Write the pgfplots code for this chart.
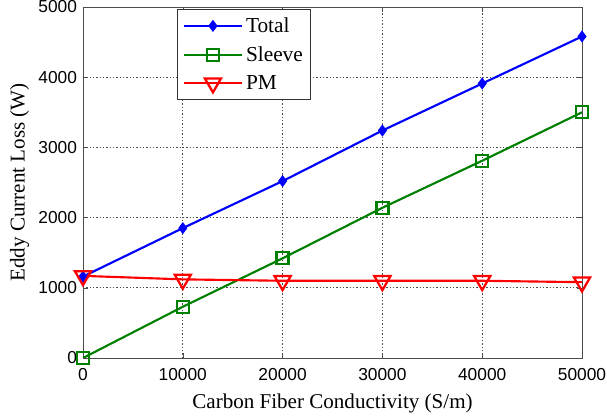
\documentclass[border=0pt]{standalone}
\usepackage{pgfplots}
\pgfplotsset{compat=1.18}
\usepackage{fontspec}
\setmainfont{Liberation Serif}
\setsansfont{Liberation Sans}
\newfontfamily\legfont{Liberation Serif}
\definecolor{mgreen}{RGB}{0,128,0}
\begin{document}
\begin{tikzpicture}[x=1pt,y=1pt]
\begin{axis}[
  name=ax,
  at={(0,0)}, anchor=south west,
  scale only axis,
  width=374.25pt, height=263.25pt,
  xmin=0, xmax=50000, ymin=0, ymax=5000,
  xtick={0,10000,...,50000}, ytick={0,1000,...,5000},
  scaled ticks=false,
  /pgf/number format/.cd, set thousands separator={}, assume math mode=true,
  /pgfplots/.cd,
  tick label style={font=\sffamily\fontsize{13}{14}\selectfont},
  xticklabel style={yshift=-4pt},
  yticklabel style={xshift=-1pt},
  tick align=inside, tick pos=both,
  major tick length=4pt,
  grid=major,
  major grid style={dash pattern=on 1pt off 1.5pt, black!70, line width=0.5pt},
  axis line style={black!70, line width=0.6pt},
  tick style={black!70},
  xlabel={Carbon Fiber Conductivity (S/m)},
  ylabel={Eddy Current Loss (W)},
  label style={font=\rmfamily\fontsize{15.8}{17}\selectfont},
  xlabel style={yshift=-3pt},
  legend style={at={(0.188,0.994)}, anchor=north west, draw=black!80, line width=0.6pt,
    font=\legfont\fontsize{16}{18}\selectfont, row sep=5pt, inner xsep=4pt, inner ysep=4pt,
    fill=white},
  legend cell align=left,
  legend image code/.code={\draw[mark repeat=2,mark phase=2,#1] plot coordinates {(0pt,0pt) (22pt,0pt) (44pt,0pt)};},
]
\addplot[color=blue, line width=1.6pt, mark=diamond*, mark size=3.9pt, mark options={fill=blue, solid, line width=0.8pt}]
  coordinates {(0,1160) (10000,1850) (20000,2520) (30000,3240) (40000,3910) (50000,4580)};
\addlegendentry{Total}
\addplot[color=mgreen, line width=1.6pt, mark=square, mark size=4.5pt, mark options={solid, line width=1.7pt}]
  coordinates {(0,0) (10000,730) (20000,1420) (30000,2140) (40000,2810) (50000,3500)};
\addlegendentry{Sleeve}
\addplot[color=red, line width=1.6pt, mark=triangle, mark size=7pt, mark options={solid, line width=1.7pt, rotate=180}]
  coordinates {(0,1170) (10000,1120) (20000,1100) (30000,1100) (40000,1100) (50000,1080)};
\addlegendentry{PM}
\end{axis}
\pgfresetboundingbox
\path (-62.25pt,-44.25pt) rectangle (393pt,268.5pt);
\end{tikzpicture}
\end{document}
